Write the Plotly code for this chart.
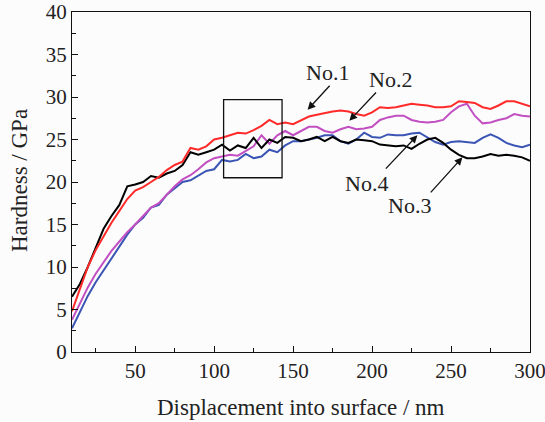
import plotly.graph_objects as go

depth = list(range(10, 301, 5))

no1 = [4.8, 7.5, 10.0, 12.0, 13.6, 15.2, 16.6, 18.0, 19.0, 19.4, 20.0, 20.6, 21.4, 22.0, 22.4, 24.0,
       23.8, 24.2, 25.0, 25.2, 25.5, 25.8, 25.7, 26.1, 26.6, 27.3, 26.8, 27.0, 26.8, 27.3, 27.7, 27.9,
       28.1, 28.3, 28.4, 28.3, 28.0, 27.8, 28.2, 28.8, 28.7, 28.8, 29.0, 29.2, 29.1, 29.0, 28.8, 28.8,
       28.9, 29.5, 29.4, 29.3, 28.8, 28.6, 29.0, 29.5, 29.5, 29.2, 28.9]
no2 = [3.8, 5.8, 7.6, 9.2, 10.6, 11.9, 13.0, 14.1, 15.0, 16.0, 17.0, 17.5, 18.5, 19.5, 20.3, 20.8,
       21.5, 22.3, 22.8, 23.0, 23.2, 23.1, 23.7, 24.2, 25.5, 24.5, 25.5, 26.0, 25.5, 26.0, 26.5, 26.5,
       26.0, 25.8, 26.2, 26.5, 26.2, 26.3, 26.5, 27.3, 27.6, 27.8, 27.8, 27.3, 27.1, 27.0, 27.1, 27.3,
       28.2, 28.9, 29.2, 27.8, 26.9, 27.0, 27.3, 27.5, 28.0, 27.8, 27.7]
no3 = [6.5, 8.0, 10.0, 12.2, 14.5, 16.0, 17.3, 19.5, 19.7, 20.0, 20.7, 20.5, 21.0, 21.3, 22.0, 23.5,
       23.2, 23.5, 23.8, 24.4, 23.7, 24.3, 24.0, 25.2, 24.0, 25.0, 24.6, 25.3, 25.2, 24.8, 25.0, 25.3,
       24.8, 25.3, 24.8, 24.6, 25.0, 24.9, 24.8, 24.4, 24.3, 24.2, 24.3, 23.9, 24.5, 25.0, 25.2, 24.6,
       23.8, 23.2, 22.8, 22.8, 23.0, 23.3, 23.1, 23.2, 23.1, 22.9, 22.5]
no4 = [2.8, 4.8, 6.6, 8.2, 9.6, 11.0, 12.4, 13.8, 15.0, 15.8, 17.0, 17.3, 18.5, 19.3, 20.0, 20.2,
       20.8, 21.3, 21.5, 22.6, 22.4, 22.6, 23.3, 22.8, 23.0, 23.8, 23.5, 24.3, 24.8, 24.8, 25.0, 25.2,
       25.5, 25.5, 24.8, 24.5, 25.0, 25.8, 25.3, 25.2, 25.6, 25.5, 25.5, 25.7, 25.8, 25.3, 24.7, 24.4,
       24.7, 24.8, 24.7, 24.6, 25.2, 25.6, 25.2, 24.6, 24.3, 24.1, 24.4]

series = [
    ("No.4", no4, "#3a55b4"),
    ("No.2", no2, "#c24fc2"),
    ("No.3", no3, "#000000"),
    ("No.1", no1, "#ff2a2a"),
]

# label text centre, arrow tail, arrow head (data coords)
labels = [
    ("No.1", 171.7, 32.9, 174.0, 31.5, 159.2, 28.5),
    ("No.2", 211.4, 32.1, 203.4, 30.7, 185.6, 27.2),
    ("No.4", 196.2, 19.8, 207.8, 21.4, 228.7, 25.5),
    ("No.3", 223.6, 17.2, 236.3, 18.6, 257.2, 22.9),
]

box = dict(x0=106, x1=143, y0=20.5, y1=29.7)

font = "Liberation Serif, Times New Roman, serif"

fig = go.Figure()
for name, vals, col in series:
    fig.add_trace(go.Scatter(x=depth, y=vals, mode="lines", name=name,
                             line=dict(color=col, width=2)))

for txt, tx, ty, ax, ay, hx, hy in labels:
    fig.add_annotation(x=tx, y=ty, text=txt, showarrow=False, xanchor="center", yanchor="middle",
                       font=dict(size=22, color="#222"))
    fig.add_annotation(x=hx, y=hy, ax=ax, ay=ay, xref="x", yref="y",
                       axref="x", ayref="y", text="", showarrow=True,
                       arrowhead=2, arrowsize=1.2, arrowwidth=1.3, arrowcolor="#111")

fig.add_shape(type="rect", xref="x", yref="y", line=dict(color="#111", width=1.3), **box)

# axis titles as annotations so they sit where the reference has them
fig.add_annotation(xref="paper", yref="paper", x=0.499, y=-0.162, text="Displacement into surface / nm",
                   xanchor="center", yanchor="middle", showarrow=False,
                   font=dict(size=23, color="#222"))
fig.add_annotation(xref="paper", yref="paper", x=-0.1135, y=0.503, text="Hardness / GPa",
                   xanchor="center", yanchor="middle", textangle=-90, showarrow=False,
                   font=dict(size=23, color="#222"))

axis_common = dict(showgrid=False, zeroline=False, showline=True, linecolor="#111",
                   linewidth=1.3, mirror=True, ticks="inside", ticklen=6, tickcolor="#111",
                   automargin=False, ticklabeloverflow="allow",
                   tickfont=dict(family=font, size=21, color="#222"))

fig.update_layout(
    width=545, height=422,
    margin=dict(l=72, r=15, t=12, b=70),
    paper_bgcolor="#fcfcfc", plot_bgcolor="#fcfcfc",
    showlegend=False,
    hovermode=False,
    font=dict(family=font, color="#222"),
    xaxis=dict(range=[10, 300], tick0=50, dtick=50,
               minor=dict(tick0=25, dtick=25, ticks="inside", ticklen=4, tickcolor="#111"),
               **axis_common),
    yaxis=dict(range=[0, 40], tick0=0, dtick=5,
               minor=dict(dtick=2.5, ticks="inside", ticklen=4, tickcolor="#111"),
               **axis_common),
)

# drop the browser's default 8px body margin so the figure fills the window
fig.write_html("out.html", config={"displayModeBar": False},
               post_script="document.body.style.margin='0';")
